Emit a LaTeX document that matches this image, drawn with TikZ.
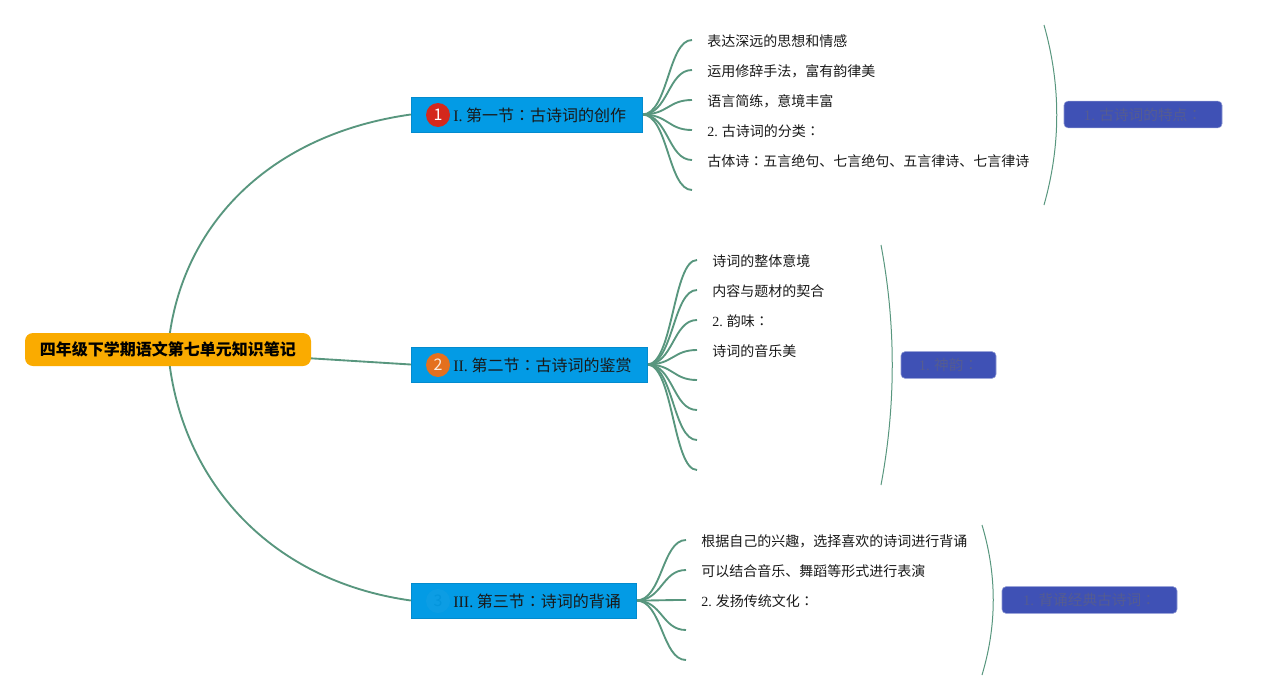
\documentclass[tikz,border=0pt]{standalone}
\usepackage{fontspec}
\setmainfont{Liberation Serif}
\newfontfamily\cjk{Noto Sans CJK SC}
\newfontfamily\cjkjp{Noto Sans CJK JP}
\newcommand\fcolon{{\cjkjp ：}}
\usetikzlibrary{backgrounds,calc}
\definecolor{linkc}{RGB}{88,150,126}
\definecolor{secblue}{RGB}{3,155,229}
\definecolor{rootor}{RGB}{250,171,0}
\definecolor{indig}{RGB}{63,81,181}
\definecolor{indigtxt}{RGB}{85,92,145}
\definecolor{badgered}{RGB}{212,40,28}
\definecolor{badgeor}{RGB}{228,112,30}
\definecolor{badgebl}{RGB}{12,157,228}
\definecolor{txt}{RGB}{25,25,25}
\begin{document}
\begin{tikzpicture}[x=0.75pt,y=-0.75pt,
  linkline/.style={draw=linkc,line width=1.4pt},
  bracketline/.style={draw=linkc,line width=0.75pt},
  rootbox/.style={fill=rootor,rounded corners=6pt,minimum width=214.5pt,minimum height=24.75pt,inner sep=0pt,font=\cjk\bfseries\fontsize{12pt}{14pt}\selectfont,text=black},
  secbox/.style={fill=secblue,draw=secblue!90!black,line width=0.3pt,minimum height=26.25pt,inner sep=0pt},
  sectext/.style={anchor=west,inner sep=0pt,font=\cjk\fontsize{12pt}{13pt}\selectfont,text=txt},
  badge/.style={circle,minimum size=18pt,inner sep=0pt,font=\cjk\fontsize{12pt}{13pt}\selectfont},
  leaf/.style={anchor=west,inner sep=0pt,font=\cjk\fontsize{10.5pt}{12pt}\selectfont,text=txt},
  labbox/.style={fill=indig,draw=indig!60!white,line width=0.4pt,rounded corners=3pt,minimum height=20pt,inner sep=0pt,font=\cjk\fontsize{11pt}{12pt}\selectfont,text=indigtxt}
]
\useasboundingbox (0,0) rectangle (1268,700);

% main nodes
\node[rootbox] (root) at (168,349.5) {四年级下学期语文第七单元知识笔记};
\node[secbox,minimum width=173.25pt] (s1) at (526.5,114.5) {};
\node[secbox,minimum width=177pt] (s2) at (529,364.5) {};
\node[secbox,minimum width=168.75pt] (s3) at (523.5,600.5) {};
\node[sectext] (t1) at (453,115) {{\rmfamily I.} 第一节\fcolon 古诗词的创作};
\node[sectext] (t2) at (453,365) {{\rmfamily II.} 第二节\fcolon 古诗词的鉴赏};
\node[sectext] (t3) at (453,601) {{\rmfamily III.} 第三节\fcolon 诗词的背诵};
\node[badge,fill=badgered,text=white] (b1) at (438,115) {1};
\node[badge,fill=badgeor,text=white!85!badgeor] (b2) at (438,365) {2};
\node[badge,fill=badgebl,text=secblue!96!black] (b3) at (438,601) {3};

% label boxes
\node[labbox,minimum width=118.5pt] (l1) at (1143,114.5) {{\rmfamily 1.} 古诗词的特点\fcolon};
\node[labbox,minimum width=71.25pt] (l2) at (948.5,365) {{\rmfamily 1.} 神韵\fcolon};
\node[labbox,minimum width=131.25pt] (l3) at (1089.5,600) {{\rmfamily 1.} 背诵经典古诗词\fcolon};

% leaf end points
\foreach \i/\y in {1/40,2/70,3/100,4/130,5/160,6/190} \coordinate (a\i) at (692,\y);
\foreach \i/\y in {1/260,2/290,3/320,4/350,5/380,6/410,7/440,8/470} \coordinate (c\i) at (697,\y);
\foreach \i/\y in {1/540,2/570,3/600,4/630,5/660} \coordinate (e\i) at (686,\y);

% leaf texts
\node[leaf] (la1) at (707,41) {表达深远的思想和情感};
\node[leaf] (la2) at (707,71) {运用修辞手法，富有韵律美};
\node[leaf] (la3) at (707,101) {语言简练，意境丰富};
\node[leaf] (la4) at (707,131) {{\rmfamily 2.} 古诗词的分类\fcolon};
\node[leaf] (la5) at (707,161) {古体诗\fcolon 五言绝句、七言绝句、五言律诗、七言律诗};
\node[leaf] (lc1) at (712,261) {诗词的整体意境};
\node[leaf] (lc2) at (712,291) {内容与题材的契合};
\node[leaf] (lc3) at (712,321) {{\rmfamily 2.} 韵味\fcolon};
\node[leaf] (lc4) at (712,351) {诗词的音乐美};
\node[leaf] (le1) at (701,541) {根据自己的兴趣，选择喜欢的诗词进行背诵};
\node[leaf] (le2) at (701,571) {可以结合音乐、舞蹈等形式进行表演};
\node[leaf] (le3) at (701,601) {{\rmfamily 2.} 发扬传统文化\fcolon};

% brackets
\coordinate (p1a) at (1044,25); \coordinate (p1b) at (1044,205);
\coordinate (p2a) at (881,245); \coordinate (p2b) at (881,485);
\coordinate (p3a) at (982,525); \coordinate (p3b) at (982,675);
\draw[bracketline] (p1a) .. controls (1061,85) and (1061,145) .. (p1b);
\draw[bracketline] (p2a) .. controls (896,325) and (896,405) .. (p2b);
\draw[bracketline] (p3a) .. controls (997,575) and (997,625) .. (p3b);

\begin{pgfonlayer}{background}
\draw[linkline] (root.center) .. controls (178,230) and (265,135) .. (s1.west);
\draw[linkline] (root.center) -- (s2.west);
\draw[linkline] (root.center) .. controls (178,475) and (265,580) .. (s3.west);
\foreach \i in {1,...,6}
  \draw[linkline] (s1.east) .. controls +(26,0) and ($(a\i)+(-24,0)$) .. (a\i);
\foreach \i in {1,...,8}
  \draw[linkline] (s2.east) .. controls +(26,0) and ($(c\i)+(-24,0)$) .. (c\i);
\foreach \i in {1,...,5}
  \draw[linkline] (s3.east) .. controls +(26,0) and ($(e\i)+(-24,0)$) .. (e\i);
\end{pgfonlayer}
\end{tikzpicture}
\end{document}
